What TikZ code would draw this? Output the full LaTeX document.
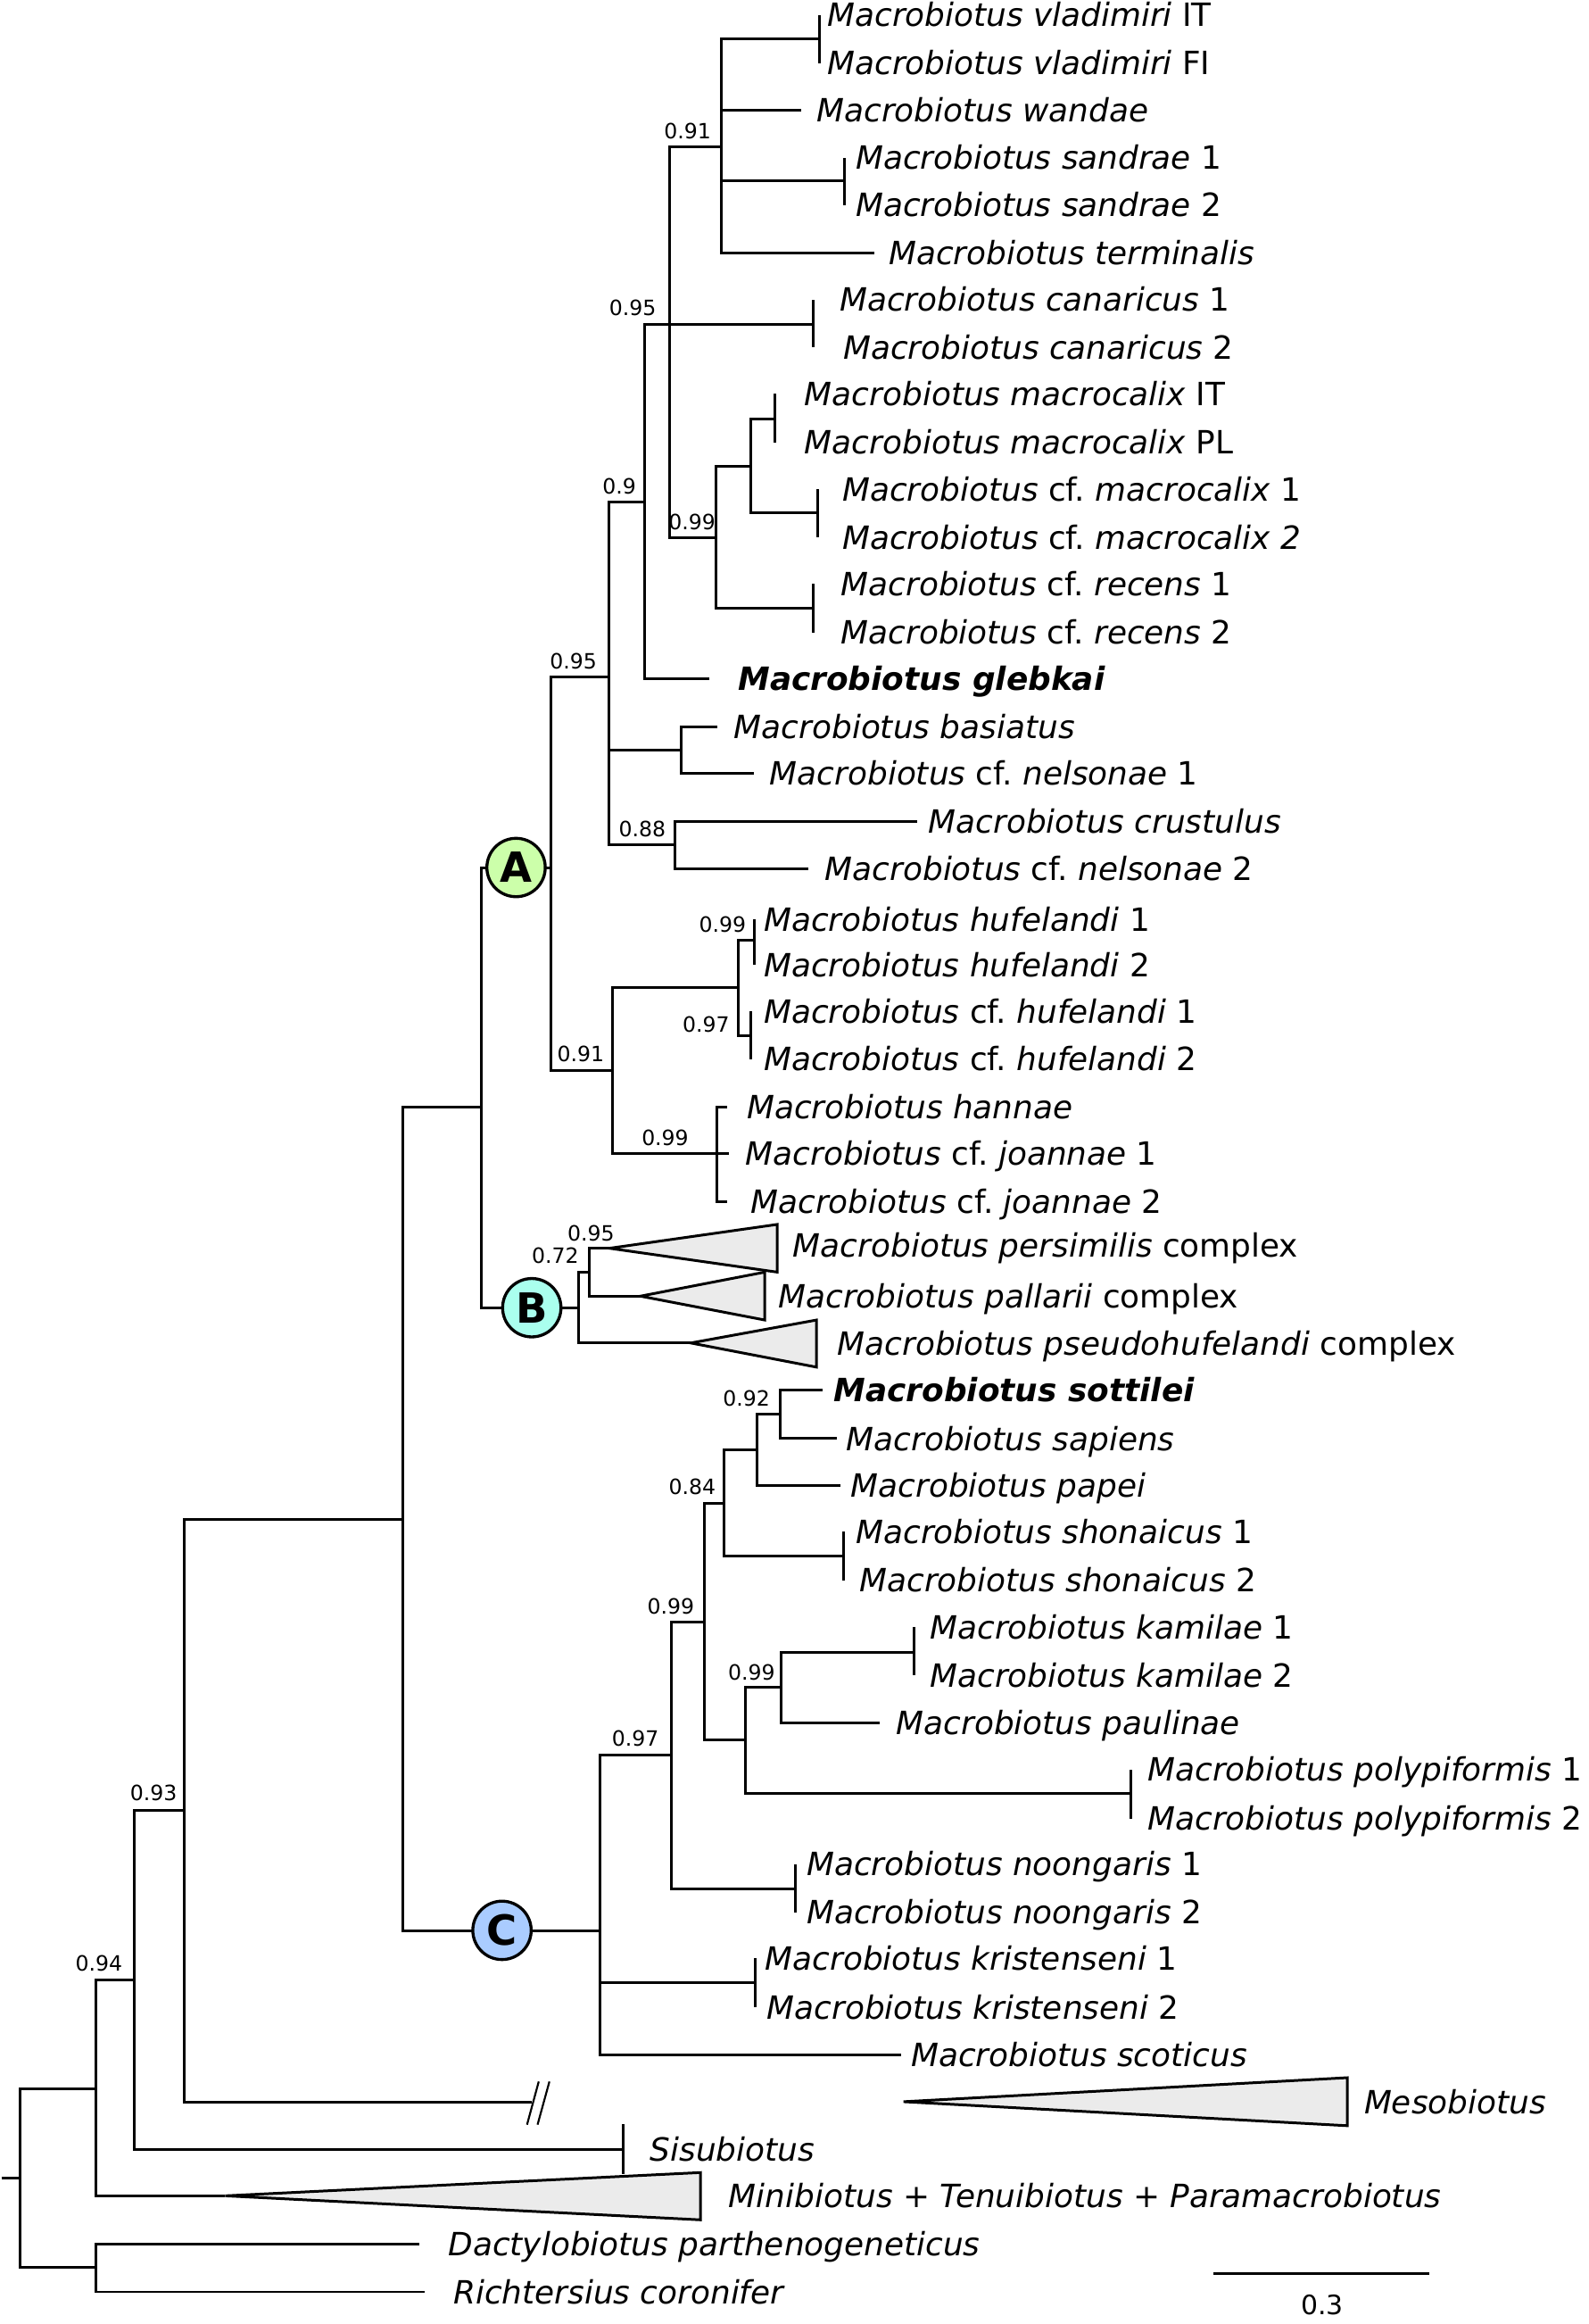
\documentclass[tikz,border=0pt]{standalone}
\usepackage{fontspec}
\setmainfont{DejaVu Sans}
\frenchspacing
\begin{document}
\begin{tikzpicture}[x=1pt,y=-1pt,
  br/.style={line width=1.8pt,line join=miter},
  thin/.style={line width=1.3pt},
  tri/.style={line width=1.8pt,line join=miter,fill=trigray},
  lab/.style={anchor=base west,inner sep=0pt,yshift=-7.9pt,font=\fontsize{21.6}{26}\selectfont},
  bs/.style={inner sep=0pt,font=\fontsize{14.2}{17}\selectfont},
  clade/.style={circle,draw,line width=2pt,minimum size=39.4pt,inner sep=0pt,font=\fontsize{28}{30}\selectfont\bfseries}]
\definecolor{trigray}{HTML}{EBEBEB}
\definecolor{colA}{HTML}{CCFFAA}
\definecolor{colB}{HTML}{AAFFEE}
\definecolor{colC}{HTML}{AACCFF}
\useasboundingbox (0,0) rectangle (1072.4,1568);
% ---- internal nodes and tips ----
\coordinate (r0) at (1,1469.3);
\coordinate (root) at (13.8,1469.3);
\coordinate (n94) at (65,1409.3);
\coordinate (nDR) at (65,1530);
\coordinate (dacty) at (283.3,1513.9);
\coordinate (richt) at (286.8,1546.3);
\coordinate (n93) at (90.5,1336);
\coordinate (miniA) at (152,1481.5);
\coordinate (miniT) at (472.7,1465.8);
\coordinate (miniB) at (472.7,1497.7);
\coordinate (n124) at (124.4,1221.4);
\coordinate (sisu) at (420.5,1450.4);
\coordinate (sisuT) at (420.5,1433.4);
\coordinate (sisuB) at (420.5,1466.6);
\coordinate (n271) at (271.9,1025);
\coordinate (mesoE) at (359.1,1418.5);
\coordinate (mesoA) at (609.8,1418);
\coordinate (mesoT) at (909.3,1401.8);
\coordinate (mesoB) at (909.3,1434.2);
\coordinate (s1a) at (355.7,1433.5);
\coordinate (s1b) at (363.6,1404.4);
\coordinate (s2a) at (362.8,1433.5);
\coordinate (s2b) at (370.8,1404.4);
\coordinate (n325) at (324.7,747.2);
\coordinate (nA) at (371.8,585.3);
\coordinate (nB) at (390.3,882.4);
\coordinate (nC) at (405.2,1302.5);
% clade A
\coordinate (n411) at (411,456.8);
\coordinate (n413) at (413.3,722.5);
\coordinate (n435) at (434.8,339);
\coordinate (glebT) at (479,458);
\coordinate (n452) at (451.7,218.7);
\coordinate (n487) at (487.1,99.3);
\coordinate (vlad) at (553,26.1);
\coordinate (vlad1) at (553,10);
\coordinate (vlad2) at (553,42.5);
\coordinate (wand) at (540.8,74.2);
\coordinate (sand) at (570,122);
\coordinate (sand1) at (570,106.3);
\coordinate (sand2) at (570,138.4);
\coordinate (term) at (590,170.5);
\coordinate (canar) at (549,218.7);
\coordinate (canar1) at (549,202.2);
\coordinate (canar2) at (549,234.3);
\coordinate (n483) at (483.4,362.7);
\coordinate (n507) at (507,314.6);
\coordinate (macro) at (523,282.5);
\coordinate (macro1) at (523,265.8);
\coordinate (macro2) at (523,298.5);
\coordinate (cfmac) at (552,346);
\coordinate (cfmac1) at (552,330);
\coordinate (cfmac2) at (552,362.7);
\coordinate (rec) at (549,410.3);
\coordinate (rec1) at (549,394);
\coordinate (rec2) at (549,426.7);
\coordinate (nbas) at (459.9,506);
\coordinate (basT) at (484,490.5);
\coordinate (nel1T) at (509,521.5);
\coordinate (n456) at (455.8,569.9);
\coordinate (crusT) at (618.8,554.4);
\coordinate (nel2T) at (545.3,586.4);
\coordinate (n498) at (498,666.2);
\coordinate (hufe) at (509,634.3);
\coordinate (hufe1) at (509,620.4);
\coordinate (hufe2) at (509,651.1);
\coordinate (cfhu) at (506.6,698.8);
\coordinate (cfhu1) at (506.6,682.3);
\coordinate (cfhu2) at (506.6,714.5);
\coordinate (n484) at (484.1,778.4);
\coordinate (hanT) at (491,746.8);
\coordinate (joa1T) at (492,778.4);
\coordinate (joa2T) at (491,810.7);
% clade B
\coordinate (n398) at (397.8,858.3);
\coordinate (persA) at (411.3,842.2);
\coordinate (persT) at (524.6,826.1);
\coordinate (persB) at (524.6,858.3);
\coordinate (palA) at (432.2,874.5);
\coordinate (palT) at (516.1,858.3);
\coordinate (palB) at (516.1,890.6);
\coordinate (psA) at (466.2,906.1);
\coordinate (psT) at (551.1,890.6);
\coordinate (psB) at (551.1,922.4);
% clade C
\coordinate (n453) at (453.4,1184.1);
\coordinate (krist) at (510,1337.9);
\coordinate (krist1) at (510,1321.2);
\coordinate (krist2) at (510,1354.3);
\coordinate (scotT) at (608.3,1386.4);
\coordinate (n475) at (475.6,1094.4);
\coordinate (noon) at (537,1274.4);
\coordinate (noon1) at (537,1257.6);
\coordinate (noon2) at (537,1290.1);
\coordinate (n488) at (488.7,1014.6);
\coordinate (n503) at (502.9,1173.7);
\coordinate (n511) at (511.1,978.3);
\coordinate (shon) at (569.6,1050);
\coordinate (shon1) at (569.6,1033.5);
\coordinate (shon2) at (569.6,1066.2);
\coordinate (n527) at (526.7,954);
\coordinate (papT) at (567.1,1002.4);
\coordinate (sotT) at (555.1,937.9);
\coordinate (sapT) at (564.6,970.6);
\coordinate (n527b) at (527,1138.2);
\coordinate (poly) at (763.2,1209.8);
\coordinate (poly1) at (763.2,1193.8);
\coordinate (poly2) at (763.2,1226.9);
\coordinate (kam) at (617,1114.6);
\coordinate (kam1) at (617,1098);
\coordinate (kam2) at (617,1130.3);
\coordinate (paulT) at (593.5,1162.3);
% scale bar
\coordinate (sbL) at (818.9,1533.9);
\coordinate (sbR) at (964.9,1533.9);
% ---- branches ----
\draw[br] (r0) -- (root);
\draw[br] (root) |- (n94);
\draw[br] (root) |- (nDR);
\draw[br] (nDR) |- (dacty);
\draw[br] (nDR) |- (richt);
\draw[br] (n94) |- (n93);
\draw[br] (n94) |- (miniA);
\draw[br] (n93) |- (n124);
\draw[br] (n93) |- (sisu);
\draw[br] (sisuT) -- (sisuB);
\draw[br] (n124) |- (n271);
\draw[br] (n124) |- (mesoE);
\draw[thin] (s1a) -- (s1b);
\draw[thin] (s2a) -- (s2b);
\draw[br] (n271) |- (n325);
\draw[br] (n271) |- (nC);
\draw[br] (n325) |- (nA);
\draw[br] (n325) |- (nB);
% A
\draw[br] (nA) |- (n411);
\draw[br] (nA) |- (n413);
\draw[br] (n411) |- (n435);
\draw[br] (n411) |- (nbas);
\draw[br] (n411) |- (n456);
\draw[br] (n435) |- (n452);
\draw[br] (n435) |- (glebT);
\draw[br] (n452) |- (n487);
\draw[br] (n452) |- (canar);
\draw[br] (n452) |- (n483);
\draw[br] (n487) |- (vlad);
\draw[br] (n487) |- (wand);
\draw[br] (n487) |- (sand);
\draw[br] (n487) |- (term);
\draw[br] (vlad) |- (vlad1);
\draw[br] (vlad) |- (vlad2);
\draw[br] (sand) |- (sand1);
\draw[br] (sand) |- (sand2);
\draw[br] (canar) |- (canar1);
\draw[br] (canar) |- (canar2);
\draw[br] (n483) |- (n507);
\draw[br] (n483) |- (rec);
\draw[br] (n507) |- (macro);
\draw[br] (n507) |- (cfmac);
\draw[br] (macro) |- (macro1);
\draw[br] (macro) |- (macro2);
\draw[br] (cfmac) |- (cfmac1);
\draw[br] (cfmac) |- (cfmac2);
\draw[br] (rec) |- (rec1);
\draw[br] (rec) |- (rec2);
\draw[br] (nbas) |- (basT);
\draw[br] (nbas) |- (nel1T);
\draw[br] (n456) |- (crusT);
\draw[br] (n456) |- (nel2T);
\draw[br] (n413) |- (n498);
\draw[br] (n413) |- (n484);
\draw[br] (n498) |- (hufe);
\draw[br] (n498) |- (cfhu);
\draw[br] (hufe) |- (hufe1);
\draw[br] (hufe) |- (hufe2);
\draw[br] (cfhu) |- (cfhu1);
\draw[br] (cfhu) |- (cfhu2);
\draw[br] (n484) |- (hanT);
\draw[br] (n484) |- (joa1T);
\draw[br] (n484) |- (joa2T);
% B
\draw[br] (nB) |- (n398);
\draw[br] (nB) |- (psA);
\draw[br] (n398) |- (persA);
\draw[br] (n398) |- (palA);
% C
\draw[br] (nC) |- (n453);
\draw[br] (nC) |- (krist);
\draw[br] (nC) |- (scotT);
\draw[br] (krist) |- (krist1);
\draw[br] (krist) |- (krist2);
\draw[br] (n453) |- (n475);
\draw[br] (n453) |- (noon);
\draw[br] (noon) |- (noon1);
\draw[br] (noon) |- (noon2);
\draw[br] (n475) |- (n488);
\draw[br] (n475) |- (n503);
\draw[br] (n488) |- (n511);
\draw[br] (n488) |- (shon);
\draw[br] (shon) |- (shon1);
\draw[br] (shon) |- (shon2);
\draw[br] (n511) |- (n527);
\draw[br] (n511) |- (papT);
\draw[br] (n527) |- (sotT);
\draw[br] (n527) |- (sapT);
\draw[br] (n503) |- (n527b);
\draw[br] (n503) |- (poly);
\draw[br] (poly) |- (poly1);
\draw[br] (poly) |- (poly2);
\draw[br] (n527b) |- (kam);
\draw[br] (n527b) |- (paulT);
\draw[br] (kam) |- (kam1);
\draw[br] (kam) |- (kam2);
% collapsed clades
\draw[tri] (persA) -- (persT) -- (persB) -- cycle;
\draw[tri] (palA) -- (palT) -- (palB) -- cycle;
\draw[tri] (psA) -- (psT) -- (psB) -- cycle;
\draw[tri] (mesoA) -- (mesoT) -- (mesoB) -- cycle;
\draw[tri] (miniA) -- (miniT) -- (miniB) -- cycle;
% scale bar
\draw[br] (sbL) -- (sbR);
\node[bs,font=\fontsize{18}{20}\selectfont] (sblab) at (892.3,1555) {0.3};
% clade circles
\node[clade,fill=colA] (cA) at (348.3,585.3) {A};
\node[clade,fill=colB] (cB) at (358.9,882.3) {B};
\node[clade,fill=colC] (cC) at (338.8,1302.4) {C};
% ---- support values ----
\node[bs] (b1) at (464,88.3) {0.91};
\node[bs] (b2) at (427,207.6) {0.95};
\node[bs] (b3) at (418,328) {0.9};
\node[bs] (b4) at (467,352) {0.99};
\node[bs] (b5) at (387,446) {0.95};
\node[bs] (b6) at (433.4,559.2) {0.88};
\node[bs] (b7) at (487.6,623.6) {0.99};
\node[bs] (b8) at (476.5,691.3) {0.97};
\node[bs] (b9) at (391.9,711) {0.91};
\node[bs] (b10) at (448.9,767.7) {0.99};
\node[bs] (b11) at (398.8,831.9) {0.95};
\node[bs] (b12) at (374.8,847.2) {0.72};
\node[bs] (b13) at (503.7,943.3) {0.92};
\node[bs] (b14) at (467.2,1003.4) {0.84};
\node[bs] (b15) at (452.8,1084) {0.99};
\node[bs] (b16) at (507.2,1128.1) {0.99};
\node[bs] (b17) at (428.8,1172.7) {0.97};
\node[bs] (b18) at (103.7,1209.8) {0.93};
\node[bs] (b19) at (66.7,1324.7) {0.94};
% ---- taxon labels ----
\node[lab] (t1) at (558.2,10) {\textit{Macrobiotus vladimiri} IT};
\node[lab] (t2) at (558.2,42.5) {\textit{Macrobiotus vladimiri} FI};
\node[lab] (t3) at (551.1,74.2) {\textit{Macrobiotus wandae}};
\node[lab] (t4) at (577.3,106.3) {\textit{Macrobiotus sandrae} 1};
\node[lab] (t5) at (577.3,138.4) {\textit{Macrobiotus sandrae} 2};
\node[lab] (t6) at (599.7,170.5) {\textit{Macrobiotus terminalis}};
\node[lab] (t7) at (566.5,202.2) {\textit{Macrobiotus canaricus} 1};
\node[lab] (t8) at (569,234.3) {\textit{Macrobiotus canaricus} 2};
\node[lab] (t9) at (542.9,265.8) {\textit{Macrobiotus macrocalix} IT};
\node[lab] (t10) at (542.9,298.5) {\textit{Macrobiotus macrocalix} PL};
\node[lab] (t11) at (568.4,330) {\textit{Macrobiotus} cf. \textit{macrocalix} 1};
\node[lab] (t12) at (568.4,362.7) {\textit{Macrobiotus} cf. \textit{macrocalix 2}};
\node[lab] (t13) at (567.5,394) {\textit{Macrobiotus} cf. \textit{recens} 1};
\node[lab] (t14) at (567.5,426.7) {\textit{Macrobiotus} cf. \textit{recens} 2};
\node[lab] (t15) at (498,458) {\textbf{\textit{Macrobiotus glebkai}}};
\node[lab] (t16) at (495.3,490.5) {\textit{Macrobiotus basiatus}};
\node[lab] (t17) at (519.4,521.5) {\textit{Macrobiotus} cf. \textit{nelsonae} 1};
\node[lab] (t18) at (626.5,554.4) {\textit{Macrobiotus crustulus}};
\node[lab] (t19) at (556.7,586.4) {\textit{Macrobiotus} cf. \textit{nelsonae} 2};
\node[lab] (t20) at (515.3,620.4) {\textit{Macrobiotus hufelandi} 1};
\node[lab] (t21) at (515.3,651.1) {\textit{Macrobiotus hufelandi} 2};
\node[lab] (t22) at (515.3,682.3) {\textit{Macrobiotus} cf. \textit{hufelandi} 1};
\node[lab] (t23) at (515.3,714.5) {\textit{Macrobiotus} cf. \textit{hufelandi} 2};
\node[lab] (t24) at (503.9,746.8) {\textit{Macrobiotus hannae}};
\node[lab] (t25) at (503,778.4) {\textit{Macrobiotus} cf. \textit{joannae} 1};
\node[lab] (t26) at (506.5,810.7) {\textit{Macrobiotus} cf. \textit{joannae} 2};
\node[lab] (t27) at (535.1,840) {\textit{Macrobiotus persimilis} complex};
\node[lab] (t28) at (525.1,874.5) {\textit{Macrobiotus pallarii} complex};
\node[lab] (t29) at (565.1,906.5) {\textit{Macrobiotus pseudohufelandi} complex};
\node[lab] (t30) at (562.6,937.9) {\textbf{\textit{Macrobiotus sottilei}}};
\node[lab] (t31) at (571.1,970.6) {\textit{Macrobiotus sapiens}};
\node[lab] (t32) at (574.1,1002.4) {\textit{Macrobiotus papei}};
\node[lab] (t33) at (577.6,1033.5) {\textit{Macrobiotus shonaicus} 1};
\node[lab] (t34) at (580,1066.2) {\textit{Macrobiotus shonaicus} 2};
\node[lab] (t35) at (627.5,1098) {\textit{Macrobiotus kamilae} 1};
\node[lab] (t36) at (627.5,1130.3) {\textit{Macrobiotus kamilae} 2};
\node[lab] (t37) at (604.8,1162.3) {\textit{Macrobiotus paulinae}};
\node[lab] (t38) at (774.5,1193.8) {\textit{Macrobiotus polypiformis} 1};
\node[lab] (t39) at (774.5,1226.9) {\textit{Macrobiotus polypiformis} 2};
\node[lab] (t40) at (544.3,1257.6) {\textit{Macrobiotus noongaris} 1};
\node[lab] (t41) at (544.3,1290.1) {\textit{Macrobiotus noongaris} 2};
\node[lab] (t42) at (516.3,1321.2) {\textit{Macrobiotus kristenseni} 1};
\node[lab] (t43) at (517.5,1354.3) {\textit{Macrobiotus kristenseni} 2};
\node[lab] (t44) at (614.7,1386.4) {\textit{Macrobiotus scoticus}};
\node[lab] (t45) at (920.5,1418) {\textit{Mesobiotus}};
\node[lab] (t46) at (438.5,1450.4) {\textit{Sisubiotus}};
\node[lab] (t47) at (491.7,1481.5) {\textit{Minibiotus} + \textit{Tenuibiotus} + \textit{Paramacrobiotus}};
\node[lab] (t48) at (302.4,1513.9) {\textit{Dactylobiotus parthenogeneticus}};
\node[lab] (t49) at (305.8,1546.3) {\textit{Richtersius coronifer}};
\end{tikzpicture}
\end{document}
